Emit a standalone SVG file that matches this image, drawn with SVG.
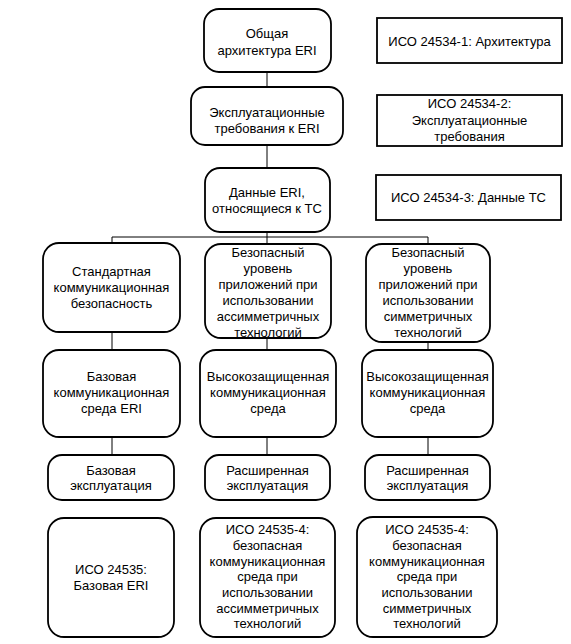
<svg xmlns="http://www.w3.org/2000/svg" width="571" height="644" viewBox="0 0 571 644">
<style>
.n{fill:#fff;stroke:#000;stroke-width:1.8}
.c{stroke:#000;stroke-width:1;fill:none}
text{font-family:"Liberation Sans",Arial,sans-serif;font-size:13px;fill:#000;text-anchor:middle}
</style>
<rect width="571" height="644" fill="#fff"/>
<g id="connectors">
<line class="c" x1="267" y1="72" x2="267" y2="87"/>
<line class="c" x1="267" y1="145" x2="267" y2="168"/>
<line class="c" x1="267" y1="232" x2="267" y2="244"/>
<line class="c" x1="112" y1="237" x2="428" y2="237"/>
<line class="c" x1="112" y1="237" x2="112" y2="243"/>
<line class="c" x1="428" y1="237" x2="428" y2="244"/>
<line class="c" x1="112" y1="332" x2="112" y2="350"/>
<line class="c" x1="267" y1="338" x2="267" y2="350"/>
<line class="c" x1="428" y1="342" x2="428" y2="350"/>
<line class="c" x1="112" y1="437" x2="112" y2="455"/>
<line class="c" x1="267" y1="437" x2="267" y2="455"/>
<line class="c" x1="428" y1="437" x2="428" y2="455"/>
</g>
<g id="n1"><rect class="n" x="204" y="9" width="127" height="63" rx="15"/><text x="267" y="38">Общая</text><text x="267" y="55">архитектура ERI</text></g>
<g id="n2"><rect class="n" x="191" y="87" width="152" height="58" rx="14"/><text x="267" y="117">Эксплуатационные</text><text x="267" y="133">требования к ERI</text></g>
<g id="n3"><rect class="n" x="205" y="168" width="125" height="64" rx="15"/><text x="267" y="197">Данные ERI,</text><text x="267" y="213">относящиеся к ТС</text></g>
<g id="r1"><rect class="n" x="377" y="18" width="185" height="45"/><text x="469.5" y="46">ИСО 24534-1: Архитектура</text></g>
<g id="r2"><rect class="n" x="377" y="95" width="185" height="51"/><text x="469.5" y="108">ИСО 24534-2:</text><text x="469.5" y="125">Эксплуатационные</text><text x="469.5" y="141">требования</text></g>
<g id="r3"><rect class="n" x="376" y="175" width="185" height="45"/><text x="468.5" y="202">ИСО 24534-3: Данные ТС</text></g>
<g id="a1"><rect class="n" x="43" y="243" width="137" height="89" rx="16"/><text x="111.5" y="276">Стандартная</text><text x="111.5" y="292">коммуникационная</text><text x="111.5" y="308">безопасность</text></g>
<g id="b1"><rect class="n" x="205" y="244" width="126" height="94" rx="16"/><text x="268" y="257">Безопасный</text><text x="268" y="273">уровень</text><text x="268" y="289">приложений при</text><text x="268" y="305">использовании</text><text x="268" y="321">ассимметричных</text><text x="268" y="337">технологий</text></g>
<g id="c1"><rect class="n" x="366" y="244" width="124" height="98" rx="16"/><text x="428" y="257">Безопасный</text><text x="428" y="273">уровень</text><text x="428" y="289">приложений при</text><text x="428" y="305">использовании</text><text x="428" y="321">симметричных</text><text x="428" y="337">технологий</text></g>
<g id="a2"><rect class="n" x="43" y="350" width="137" height="87" rx="16"/><text x="111.5" y="381">Базовая</text><text x="111.5" y="397">коммуникационная</text><text x="111.5" y="413">среда ERI</text></g>
<g id="b2"><rect class="n" x="200" y="350" width="136" height="87" rx="16"/><text x="268" y="381">Высокозащищенная</text><text x="268" y="397">коммуникационная</text><text x="268" y="413">среда</text></g>
<g id="c2"><rect class="n" x="362" y="350" width="131" height="87" rx="16"/><text x="427.5" y="381">Высокозащищенная</text><text x="427.5" y="397">коммуникационная</text><text x="427.5" y="413">среда</text></g>
<g id="a3"><rect class="n" x="48" y="455" width="126" height="45" rx="14"/><text x="111" y="474.5">Базовая</text><text x="111" y="490">эксплуатация</text></g>
<g id="b3"><rect class="n" x="205" y="455" width="125" height="45" rx="14"/><text x="267.5" y="474.5">Расширенная</text><text x="267.5" y="490">эксплуатация</text></g>
<g id="c3"><rect class="n" x="365" y="455" width="125" height="45" rx="14"/><text x="427.5" y="474.5">Расширенная</text><text x="427.5" y="490">эксплуатация</text></g>
<g id="a4"><rect class="n" x="48" y="518" width="126" height="119" rx="16"/><text x="111" y="574">ИСО 24535:</text><text x="111" y="590">Базовая ERI</text></g>
<g id="b4"><rect class="n" x="200" y="518" width="135" height="119" rx="16"/><text x="267.5" y="534">ИСО 24535-4:</text><text x="267.5" y="550">безопасная</text><text x="267.5" y="566">коммуникационная</text><text x="267.5" y="581">среда при</text><text x="267.5" y="597">использовании</text><text x="267.5" y="613">ассимметричных</text><text x="267.5" y="628">технологий</text></g>
<g id="c4"><rect class="n" x="357" y="517" width="140" height="120" rx="16"/><text x="427" y="534">ИСО 24535-4:</text><text x="427" y="550">безопасная</text><text x="427" y="566">коммуникационная</text><text x="427" y="581">среда при</text><text x="427" y="597">использовании</text><text x="427" y="613">симметричных</text><text x="427" y="628">технологий</text></g>
</svg>
